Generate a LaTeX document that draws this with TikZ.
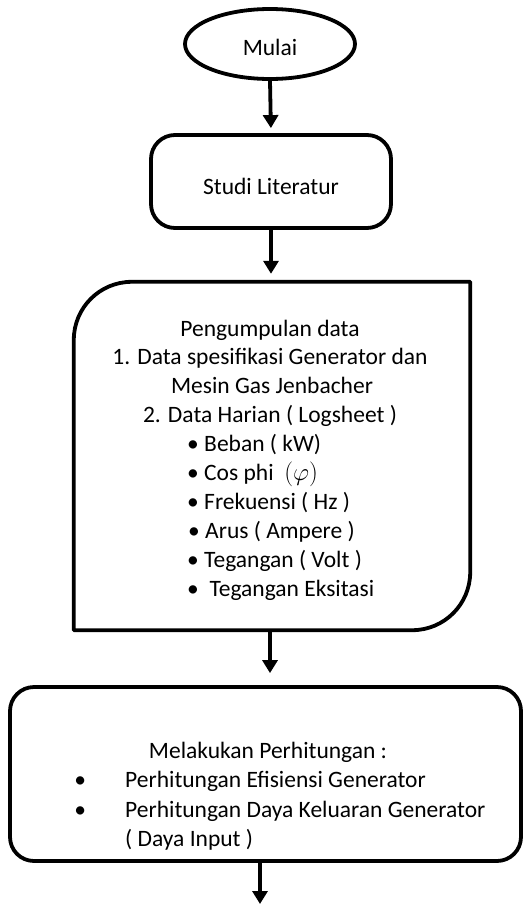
\documentclass[tikz,border=0pt]{standalone}
\usepackage{fontspec}
\setmainfont{Carlito}
\usetikzlibrary{shapes.geometric,arrows.meta,calc}
\begin{document}
\begin{tikzpicture}[x=1pt,y=-1pt,
  every node/.style={font=\fontsize{23.5}{29}\selectfont, inner sep=0pt},
  boxline/.style={line width=3.8pt, line join=round},
  rbox/.style={boxline, draw, rectangle, rounded corners=24pt},
  txt/.style={anchor=base},
  ltxt/.style={anchor=base west},
  flow/.style={line width=3.8pt, -{Triangle[width=15pt,length=13pt]}}]
\useasboundingbox[fill=white] (0,0) rectangle (525,905);
% shapes
\node[boxline, draw, ellipse, minimum width=170pt, minimum height=70pt] (mulai) at (270,44) {};
\node[txt] (tmulai) at (270,55) {Mulai};
\node[rbox, minimum width=240pt, minimum height=93pt] (studi) at (271,181.5) {};
\node[txt] (tstudi) at (271,194) {Studi Literatur};
\node[draw=none, rectangle, minimum width=396pt, minimum height=348pt] (data) at (272,456) {};
\draw[boxline] (data.south west) -- ([yshift=-58pt]data.north west)
  arc[start angle=180, end angle=90, radius=58pt]
  -- (data.north east) -- ([yshift=58pt]data.south east)
  arc[start angle=0, end angle=-90, radius=58pt] -- cycle;
\node[txt] (d1) at (270,336) {Pengumpulan data};
\node[txt] (d2) at (270,364.5) {1. Data spesifikasi Generator dan};
\node[txt] (d3) at (272,393) {Mesin Gas Jenbacher};
\node[txt] (d4) at (270,422) {2. Data Harian ( Logsheet )};
\node[ltxt] (b1) at (187,451) {• Beban ( kW)};
\node[ltxt] (b2) at (187,480) {• Cos phi\ \ $(\varphi)$};
\node[ltxt] (b3) at (187,509) {• Frekuensi ( Hz )};
\node[ltxt] (b4) at (188,538) {• Arus ( Ampere )};
\node[ltxt] (b5) at (187,567) {• Tegangan ( Volt )};
\node[ltxt] (b6) at (187,596) {•\ \ Tegangan Eksitasi};
\node[rbox, minimum width=511pt, minimum height=174pt] (hitung) at (265.5,774) {};
\node[txt] (h1) at (268,758) {Melakukan Perhitungan :};
\node[ltxt] (h2) at (125,787.5) {\llap{\makebox[0pt]{•}\hspace{45pt}}Perhitungan Efisiensi Generator};
\node[ltxt] (h3) at (125,817) {\llap{\makebox[0pt]{•}\hspace{45pt}}Perhitungan Daya Keluaran Generator};
\node[ltxt] (h4) at (125,846.5) {( Daya Input )};
\coordinate (end) at (260,904);
% connectors
\draw[flow, shorten >=5pt] (mulai.south) -- (studi.north);
\draw[flow, shorten >=8pt] (studi.south) -- (data.north -| studi.south);
\draw[flow, shorten >=12pt] (data.south -| mulai.south) -- (hitung.north -| mulai.south);
\draw[flow] (hitung.south -| end) -- (end);
\end{tikzpicture}
\end{document}
